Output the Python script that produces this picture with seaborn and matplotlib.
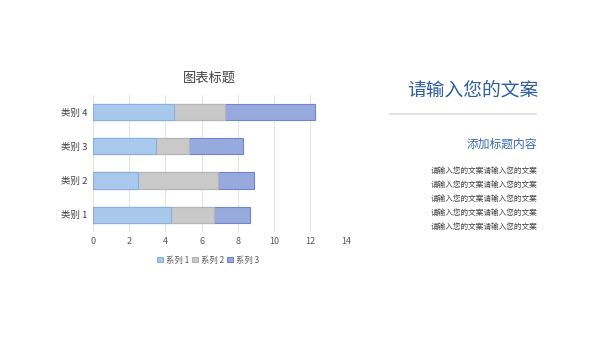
import matplotlib
matplotlib.use("Agg")
import matplotlib.pyplot as plt
import seaborn as sns
import pandas as pd
import numpy as np
from matplotlib.patches import Patch
from matplotlib.lines import Line2D

categories = ['类别 1', '类别 2', '类别 3', '类别 4']
series_names = ['系列 1', '系列 2', '系列 3']
s1 = [4.3, 2.5, 3.5, 4.5]
s2 = [2.4, 4.4, 1.8, 2.8]
s3 = [2.0, 2.0, 3.0, 5.0]
xticks = [0, 2, 4, 6, 8, 10, 12, 14]

chart_title = '图表标题'
side_title = '请输入您的文案'
side_sub = '添加标题内容'
side_lines = ['请输入您的文案请输入您的文案'] * 5

sns.set_theme(style='white')
plt.rcParams['font.family'] = ['Noto Sans CJK SC', 'DejaVu Sans']

fills = ['#A8C8EC', '#C9C9C9', '#98A9DD']
edges = ['#8AB0DE', '#B4B4B4', '#6E86CB']

df = pd.DataFrame({'cat': categories, 's1': s1, 's2': s2, 's3': s3})
df['c1'] = df['s1']
df['c2'] = df['s1'] + df['s2']
df['c3'] = df['s1'] + df['s2'] + df['s3']

fig = plt.figure(figsize=(6, 3.38), dpi=100)
ax = fig.add_axes([0.155, 0.314, 0.422, 0.405])

order = categories[::-1]
for col, fc, ec in zip(['c3', 'c2', 'c1'], fills[::-1], edges[::-1]):
    sns.barplot(data=df, x=col, y='cat', order=order, ax=ax, color=fc,
                edgecolor=ec, linewidth=0.8, width=0.47, saturation=1)

ax.set_xlim(0, 14)
ax.set_xticks(xticks)
ax.set_xticklabels([str(t) for t in xticks], fontsize=6.5, color='#595959')
ax.tick_params(axis='y', labelsize=6.8, colors='#404040', length=0, pad=4)
ax.tick_params(axis='x', length=0, pad=4)
ax.set_xlabel('')
ax.set_ylabel('')
ax.xaxis.grid(True, color='#E3E3E3', linewidth=0.8)
ax.set_axisbelow(True)
for s in ax.spines.values():
    s.set_visible(False)
fig.text(209 / 600, 1 - 78 / 338, chart_title, ha='center', va='center',
         fontsize=9.5, color='#404040')

handles = [Patch(facecolor=f, edgecolor=e, linewidth=0.8) for f, e in zip(fills, edges)]
fig.legend(handles, series_names, loc='center', bbox_to_anchor=(0.347, 0.231),
           ncol=3, frameon=False, fontsize=6, handlelength=0.7, handleheight=0.7,
           handletextpad=0.3, columnspacing=0.4, labelcolor='#595959')

# right side panel
fig.text(538 / 600, 1 - 90 / 338, side_title, ha='right', va='center',
         fontsize=13.5, color='#2F5F9E')
fig.add_artist(Line2D([390 / 600, 536 / 600], [1 - 114 / 338] * 2,
                      color='#E2E2E2', linewidth=1.5, transform=fig.transFigure))
fig.text(537 / 600, 1 - 144 / 338, side_sub, ha='right', va='center',
         fontsize=8.5, color='#3B6AAE')
for i, t in enumerate(side_lines):
    fig.text(537 / 600, 1 - (171 + 14 * i) / 338, t, ha='right', va='center',
             fontsize=5.5, color='#404040')

fig.savefig('out.png', dpi=100)
